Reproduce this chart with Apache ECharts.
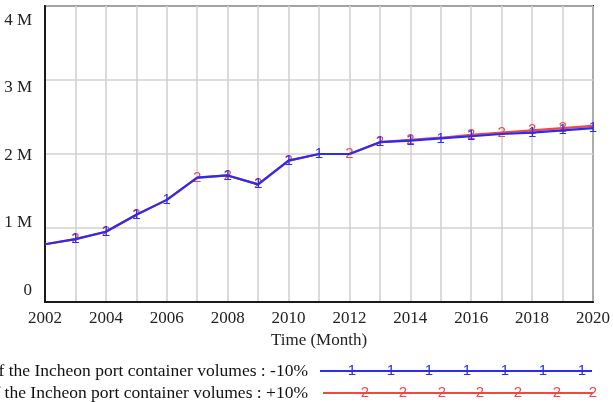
<!DOCTYPE html>
<html>
<head>
<meta charset="utf-8">
<script src="https://cdn.jsdelivr.net/npm/echarts@6/dist/echarts.min.js"></script>
<style>
html,body{margin:0;padding:0;background:#fff;}
#chart{width:613px;height:402px;}
</style>
</head>
<body>
<div id="chart"></div>
<script>
// ---- data ----
const years = [2002,2003,2004,2005,2006,2007,2008,2009,2010,2011,2012,2013,2014,2015,2016,2017,2018,2019,2020];
// container volumes (millions)
const volMinus10 = [0.78,0.85,0.95,1.18,1.38,1.68,1.71,1.59,1.91,2.00,2.00,2.16,2.18,2.21,2.24,2.27,2.29,2.32,2.35];
const volPlus10  = [0.78,0.85,0.95,1.18,1.38,1.68,1.71,1.59,1.91,2.00,2.00,2.16,2.19,2.22,2.26,2.29,2.32,2.35,2.38];
const markers1 = [2003,2004,2005,2006,2008,2009,2010,2011,2013,2014,2015,2016,2018,2019,2020];
const markers2 = [2003,2004,2005,2007,2008,2009,2010,2012,2013,2014,2016,2017,2018,2019];
const xTickLabels = ['2002','2004','2006','2008','2010','2012','2014','2016','2018','2020'];
const yTickLabels = ['0','1 M','2 M','3 M','4 M'];
const seriesNames = ['the Incheon port container volumes : -10%','the Incheon port container volumes : +10%'];
const legendPrefix = 'Sensitivity of ';

const FONT = 'Liberation Serif';
const BLUE = '#2b2bf2';
const RED = '#f04646';

function buildData(vals, marks){
  return years.map((y,i)=>({value:[y, vals[i]], label:{show: marks.indexOf(y) >= 0}}));
}

const yShift = ['z0','z1','z2','z3','z4'];
const chart = echarts.init(document.getElementById('chart'), null, {renderer:'canvas'});

// legend graphics
const legendRows = [
  {y:371, color:BLUE, glyph:'1', name:seriesNames[0], xs:[352,391,429,467,505,543,582], x0:320, x1:592},
  {y:393, color:RED, glyph:'2', name:seriesNames[1], xs:[365,403,442,480,518,557,593], x0:323, x1:593}
];
const graphics = [];
legendRows.forEach(r=>{
  graphics.push({type:'text', style:{x:308, y:r.y, text:legendPrefix + r.name, fill:'#111', font:'17.5px "'+FONT+'"', textAlign:'right', textVerticalAlign:'middle'}});
  graphics.push({type:'line', shape:{x1:r.x0, y1:r.y, x2:r.x1, y2:r.y}, style:{stroke:r.color, lineWidth:2}});
  r.xs.forEach(x=>{
    graphics.push({type:'text', style:{x:x, y:r.y, text:r.glyph, fill:r.color, font:'15px "Liberation Sans"', textAlign:'center', textVerticalAlign:'middle'}});
  });
});

function seriesFor(name, vals, marks, color, z){
  return {
    name:name, type:'line', z:z,
    data: buildData(vals, marks),
    symbol:'circle', symbolSize:1, showSymbol:true, showAllSymbol:true,
    itemStyle:{color:'rgba(0,0,0,0)'},
    lineStyle:{color:color, width:2.2},
    emphasis:{disabled:true},
    label:{position:'inside', formatter: name.indexOf('-10%')>=0 ? '1' : '2', color:color, fontSize:15, fontFamily:'Liberation Sans'},
    animation:false
  };
}

chart.setOption({
  backgroundColor:'#fff',
  animation:false,
  grid:{left:45, right:19, top:6, bottom:100, show:true, borderColor:'#1a1a1a', borderWidth:2, backgroundColor:'rgba(0,0,0,0)'},
  xAxis:{
    type:'value', min:2002, max:2020, interval:1,
    axisLine:{show:true, lineStyle:{color:'#1a1a1a', width:2}},
    axisTick:{show:false},
    splitLine:{show:true, lineStyle:{color:'#d2d2d2', width:1.6}},
    axisLabel:{margin:8, color:'#222', fontSize:17, fontFamily:FONT,
      formatter:v=>{const s=String(v); return xTickLabels.indexOf(s)>=0 ? s : '';}},
    name:'Time (Month)', nameLocation:'middle', nameGap:28,
    nameTextStyle:{color:'#222', fontSize:17, fontFamily:FONT}
  },
  yAxis:{
    type:'value', min:0, max:4, interval:1,
    axisLine:{show:true, lineStyle:{color:'#1a1a1a', width:2}},
    axisTick:{show:false},
    splitLine:{show:true, lineStyle:{color:'#d2d2d2', width:1.6}},
    axisLabel:{margin:13, color:'#222', fontSize:17, fontFamily:FONT,
      formatter:v=>'{'+yShift[v]+'|'+yTickLabels[v]+'}',
      rich:{
        z0:{fontSize:17, fontFamily:FONT, color:'#222', padding:[0,0,22,0]},
        z1:{fontSize:17, fontFamily:FONT, color:'#222', padding:[0,0,10,0]},
        z2:{fontSize:17, fontFamily:FONT, color:'#222', padding:[4,0,0,0]},
        z3:{fontSize:17, fontFamily:FONT, color:'#222', padding:[16,0,0,0]},
        z4:{fontSize:17, fontFamily:FONT, color:'#222', padding:[30,0,0,0]}
      }
    }
  },
  series:[
    seriesFor(seriesNames[1], volPlus10, markers2, RED, 2),
    seriesFor(seriesNames[0], volMinus10, markers1, BLUE, 3)
  ],
  graphic: graphics
});
</script>
</body>
</html>
